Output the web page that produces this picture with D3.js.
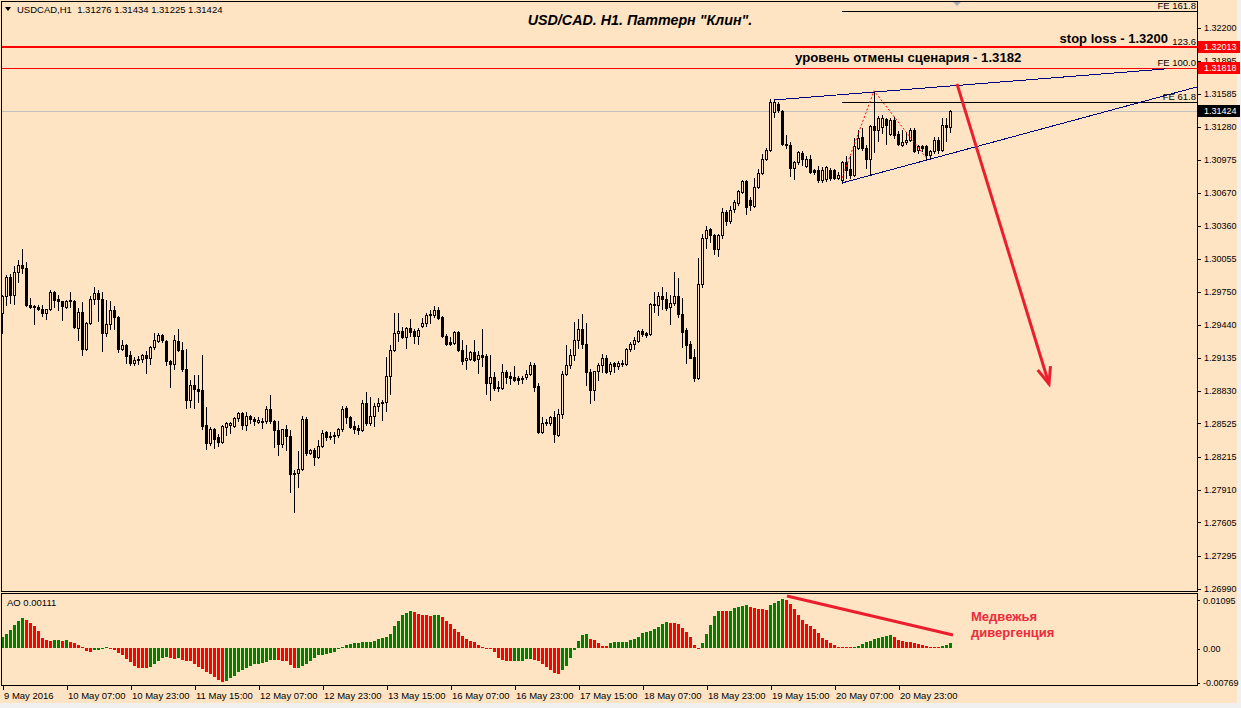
<!DOCTYPE html>
<html><head><meta charset="utf-8">
<script src="https://d3js.org/d3.v7.min.js"></script>
<style>
html,body{margin:0;padding:0;background:#f0f0f0;overflow:hidden;}
svg{display:block;}
text{font-family:"Liberation Sans",Arial,Helvetica,sans-serif;}
</style></head><body>
<svg id="chart" width="1241" height="708"></svg>
<script>
// ---------- DATA ----------
const open = [1.2955,1.2970,1.2988,1.2971,1.2993,1.2999,1.2996,1.2962,1.2960,1.2960,
1.2958,1.2955,1.2958,1.2974,1.2968,1.2966,1.2960,1.2966,1.2966,1.2941,
1.2956,1.2921,1.2945,1.2968,1.2973,1.2968,1.2936,1.2944,1.2957,1.2951,
1.2921,1.2925,1.2916,1.2908,1.2911,1.2912,1.2916,1.2913,1.2923,1.2929,
1.2934,1.2929,1.2910,1.2907,1.2929,1.2920,1.2903,1.2874,1.2888,1.2884,
1.2883,1.2851,1.2834,1.2847,1.2839,1.2835,1.2849,1.2851,1.2850,1.2857,
1.2862,1.2851,1.2859,1.2856,1.2853,1.2854,1.2854,1.2865,1.2854,1.2846,
1.2833,1.2847,1.2840,1.2806,1.2806,1.2810,1.2856,1.2825,1.2827,1.2821,
1.2831,1.2844,1.2840,1.2840,1.2841,1.2847,1.2866,1.2858,1.2850,1.2848,
1.2846,1.2871,1.2852,1.2859,1.2868,1.2872,1.2872,1.2896,1.2920,1.2936,
1.2938,1.2932,1.2941,1.2938,1.2933,1.2943,1.2945,1.2953,1.2953,1.2957,
1.2951,1.2933,1.2928,1.2927,1.2937,1.2920,1.2911,1.2912,1.2918,1.2912,
1.2916,1.2915,1.2890,1.2895,1.2886,1.2885,1.2900,1.2896,1.2895,1.2894,
1.2893,1.2895,1.2898,1.2906,1.2887,1.2844,1.2852,1.2852,1.2858,1.2841,
1.2861,1.2898,1.2906,1.2916,1.2930,1.2940,1.2926,1.2900,1.2883,1.2901,
1.2906,1.2913,1.2901,1.2908,1.2905,1.2907,1.2907,1.2921,1.2926,1.2929,
1.2938,1.2936,1.2935,1.2963,1.2962,1.2970,1.2968,1.2960,1.2964,1.2970,
1.2954,1.2939,1.2926,1.2914,1.2894,1.2982,1.3024,1.3033,1.3027,1.3014,
1.3027,1.3048,1.3040,1.3051,1.3057,1.3067,1.3077,1.3060,1.3054,1.3072,
1.3085,1.3098,1.3106,1.3141,1.3149,1.3142,1.3112,1.3111,1.3089,1.3095,
1.3103,1.3091,1.3098,1.3087,1.3087,1.3078,1.3079,1.3087,1.3087,1.3080,
1.3078,1.3095,1.3088,1.3083,1.3108,1.3118,1.3108,1.3098,1.3128,1.3125,
1.3127,1.3135,1.3121,1.3134,1.3121,1.3111,1.3113,1.3115,1.3125,1.3106,
1.3110,1.3110,1.3101,1.3105,1.3115,1.3106,1.3129,1.31276];

const high = [1.2971,1.2990,1.2991,1.2998,1.3004,1.3014,1.3002,1.2969,1.2962,1.2962,
1.2962,1.2958,1.2976,1.2975,1.2971,1.2966,1.2967,1.2974,1.2967,1.2959,
1.2965,1.2946,1.2970,1.2979,1.2976,1.2974,1.2967,1.2966,1.2961,1.2952,
1.2930,1.2926,1.2919,1.2914,1.2915,1.2917,1.2919,1.2924,1.2936,1.2936,
1.2935,1.2930,1.2911,1.2934,1.2940,1.2928,1.2921,1.2892,1.2897,1.2897,
1.2916,1.2867,1.2849,1.2848,1.2842,1.2851,1.2853,1.2853,1.2858,1.2863,
1.2863,1.2863,1.2860,1.2858,1.2858,1.2857,1.2868,1.2878,1.2855,1.2854,
1.2847,1.2851,1.2846,1.2809,1.2826,1.2859,1.2858,1.2828,1.2829,1.2837,
1.2846,1.2845,1.2844,1.2844,1.2848,1.2868,1.2868,1.2859,1.2854,1.2851,
1.2874,1.2881,1.2877,1.2871,1.2876,1.2874,1.2914,1.2925,1.2955,1.2955,
1.2942,1.2942,1.2949,1.2940,1.2941,1.2950,1.2955,1.2957,1.2961,1.2960,
1.2952,1.2935,1.2932,1.2938,1.2938,1.2930,1.2925,1.2919,1.2930,1.2919,
1.2940,1.2917,1.2916,1.2900,1.2891,1.2907,1.2902,1.2900,1.2905,1.2896,
1.2896,1.2902,1.2909,1.2908,1.2890,1.2858,1.2856,1.2859,1.2864,1.2865,
1.2901,1.2925,1.2921,1.2946,1.2949,1.2954,1.2945,1.2903,1.2901,1.2908,
1.2917,1.2916,1.2909,1.2909,1.2910,1.2911,1.2922,1.2928,1.2932,1.2939,
1.2940,1.2937,1.2964,1.2974,1.2974,1.2979,1.2974,1.2971,1.2993,1.2987,
1.2969,1.2941,1.2929,1.2921,1.3006,1.3028,1.3035,1.3034,1.3028,1.3028,
1.3052,1.3050,1.3054,1.3060,1.3069,1.3078,1.3078,1.3062,1.3080,1.3088,
1.3102,1.3108,1.3153,1.3153,1.3151,1.3143,1.3120,1.3113,1.3096,1.3105,
1.3105,1.3100,1.3101,1.3088,1.3091,1.3090,1.3091,1.3089,1.3088,1.3086,
1.3096,1.3100,1.3100,1.3117,1.3125,1.3126,1.3111,1.3129,1.3161,1.3138,
1.3139,1.3136,1.3136,1.3137,1.3124,1.3125,1.3123,1.3126,1.3126,1.3111,
1.3111,1.3111,1.3106,1.3118,1.3118,1.3136,1.3136,1.31434];

const low = [1.2936,1.2962,1.2964,1.2963,1.2983,1.2992,1.2961,1.2959,1.2944,1.2957,
1.2952,1.2949,1.2957,1.2960,1.2957,1.2948,1.2959,1.2960,1.2941,1.2930,
1.2916,1.2920,1.2944,1.2963,1.2947,1.2919,1.2933,1.2940,1.2940,1.2918,
1.2920,1.2908,1.2906,1.2906,1.2907,1.2909,1.2899,1.2907,1.2921,1.2928,
1.2928,1.2906,1.2886,1.2903,1.2919,1.2901,1.2866,1.2867,1.2866,1.2872,
1.2847,1.2828,1.2832,1.2829,1.2831,1.2834,1.2841,1.2843,1.2849,1.2854,
1.2847,1.2846,1.2852,1.2851,1.2852,1.2848,1.2852,1.2852,1.2830,1.2823,
1.2830,1.2827,1.2788,1.2770,1.2793,1.2809,1.2823,1.2824,1.2813,1.2820,
1.2830,1.2837,1.2838,1.2834,1.2839,1.2845,1.2852,1.2848,1.2843,1.2842,
1.2845,1.2851,1.2851,1.2850,1.2864,1.2855,1.2864,1.2879,1.2919,1.2929,
1.2931,1.2922,1.2933,1.2927,1.2926,1.2942,1.2943,1.2945,1.2951,1.2949,
1.2932,1.2925,1.2925,1.2926,1.2919,1.2907,1.2903,1.2911,1.2910,1.2899,
1.2905,1.2879,1.2874,1.2883,1.2882,1.2884,1.2890,1.2889,1.2891,1.2889,
1.2890,1.2893,1.2897,1.2882,1.2843,1.2843,1.2851,1.2851,1.2835,1.2840,
1.2857,1.2897,1.2904,1.2911,1.2922,1.2922,1.2888,1.2871,1.2874,1.2892,
1.2900,1.2899,1.2898,1.2900,1.2903,1.2905,1.2906,1.2919,1.2921,1.2928,
1.2933,1.2932,1.2934,1.2956,1.2953,1.2958,1.2957,1.2944,1.2962,1.2951,
1.2923,1.2908,1.2913,1.2891,1.2893,1.2979,1.3015,1.3021,1.3009,1.3008,
1.3024,1.3036,1.3038,1.3048,1.3055,1.3066,1.3047,1.3050,1.3053,1.3071,
1.3084,1.3097,1.3105,1.3137,1.3141,1.3111,1.3108,1.3082,1.3079,1.3093,
1.3092,1.3090,1.3085,1.3084,1.3076,1.3076,1.3077,1.3078,1.3079,1.3079,
1.3075,1.3080,1.3080,1.3082,1.3107,1.3106,1.3089,1.3083,1.3104,1.3114,
1.3122,1.3112,1.3120,1.3117,1.3111,1.3110,1.3112,1.3114,1.3104,1.3103,
1.3105,1.3097,1.3098,1.3103,1.3103,1.3105,1.3114,1.31225];

const close = [1.2970,1.2988,1.2971,1.2993,1.2999,1.2996,1.2962,1.2960,1.2961,1.2958,
1.2955,1.2958,1.2974,1.2967,1.2966,1.2961,1.2966,1.2967,1.2942,1.2956,
1.2921,1.2945,1.2968,1.2973,1.2968,1.2936,1.2944,1.2957,1.2951,1.2921,
1.2925,1.2915,1.2908,1.2911,1.2912,1.2916,1.2913,1.2923,1.2930,1.2934,
1.2930,1.2910,1.2907,1.2930,1.2920,1.2903,1.2874,1.2888,1.2884,1.2882,
1.2850,1.2834,1.2847,1.2838,1.2835,1.2850,1.2852,1.2852,1.2857,1.2862,
1.2851,1.2859,1.2856,1.2854,1.2855,1.2853,1.2865,1.2854,1.2846,1.2833,
1.2847,1.2840,1.2805,1.2805,1.2810,1.2856,1.2825,1.2827,1.2821,1.2831,
1.2843,1.2839,1.2839,1.2841,1.2847,1.2865,1.2858,1.2849,1.2847,1.2846,
1.2871,1.2852,1.2859,1.2868,1.2871,1.2871,1.2896,1.2920,1.2936,1.2938,
1.2932,1.2941,1.2937,1.2933,1.2939,1.2945,1.2953,1.2954,1.2957,1.2950,
1.2933,1.2926,1.2926,1.2937,1.2920,1.2910,1.2913,1.2918,1.2911,1.2916,
1.2914,1.2890,1.2895,1.2885,1.2885,1.2900,1.2895,1.2894,1.2892,1.2892,
1.2894,1.2898,1.2906,1.2886,1.2844,1.2852,1.2853,1.2858,1.2842,1.2861,
1.2898,1.2906,1.2916,1.2930,1.2940,1.2926,1.2900,1.2883,1.2901,1.2906,
1.2913,1.2900,1.2907,1.2905,1.2908,1.2908,1.2921,1.2926,1.2930,1.2938,
1.2935,1.2934,1.2963,1.2962,1.2970,1.2968,1.2959,1.2964,1.2970,1.2954,
1.2937,1.2925,1.2913,1.2894,1.2982,1.3024,1.3032,1.3027,1.3014,1.3027,
1.3048,1.3040,1.3050,1.3058,1.3068,1.3077,1.3053,1.3055,1.3072,1.3085,
1.3098,1.3106,1.3151,1.3151,1.3143,1.3112,1.3111,1.3089,1.3095,1.3104,
1.3098,1.3098,1.3086,1.3086,1.3078,1.3087,1.3090,1.3080,1.3080,1.3083,
1.3095,1.3087,1.3083,1.3110,1.3117,1.3108,1.3098,1.3128,1.3125,1.3136,
1.3136,1.3129,1.3134,1.3120,1.3112,1.3113,1.3115,1.3125,1.3105,1.3110,
1.3108,1.3101,1.3105,1.3115,1.3106,1.3129,1.3127,1.31424];

const aoValues = [0.0025,0.0032,0.0040,0.0052,0.0061,0.0067,0.0063,0.0057,0.0049,0.0037,
0.0023,0.0017,0.0016,0.0017,0.0018,0.0015,0.0017,0.0014,0.0010,0.0006,
0.0002,-0.0008,-0.0010,-0.0006,-0.0005,-0.0004,0.0002,-0.0002,-0.0005,-0.0013,
-0.0017,-0.0025,-0.0033,-0.0042,-0.0045,-0.0046,-0.0047,-0.0043,-0.0037,-0.0030,
-0.0024,-0.0020,-0.0024,-0.0026,-0.0023,-0.0028,-0.0029,-0.0030,-0.0037,-0.0043,
-0.0048,-0.0055,-0.0060,-0.0066,-0.0072,-0.0077,-0.0075,-0.0069,-0.0063,-0.0056,
-0.0050,-0.0046,-0.0041,-0.0037,-0.0036,-0.0035,-0.0032,-0.0028,-0.00275,-0.0028,
-0.0029,-0.0030,-0.0039,-0.0046,-0.0045,-0.0042,-0.0036,-0.0029,-0.0023,-0.0017,
-0.0016,-0.0015,-0.0011,-0.0010,-0.0004,0.0001,0.0005,0.0008,0.0011,0.00115,
0.0012,0.00125,0.0014,0.0016,0.0019,0.0021,0.0025,0.0032,0.0048,0.0061,
0.0074,0.0079,0.0083,0.0080,0.0076,0.0075,0.0074,0.0072,0.0073,0.0074,
0.0069,0.0060,0.0053,0.0043,0.0035,0.0026,0.0020,0.0016,0.0012,0.0006,
0.0002,-0.0001,-0.0004,-0.0010,-0.0023,-0.0028,-0.0030,-0.00305,-0.0030,-0.00295,
-0.0029,-0.00265,-0.0026,-0.0028,-0.0030,-0.0037,-0.0043,-0.00505,-0.0058,-0.00585,
-0.00505,-0.0041,-0.0024,-0.0006,0.0015,0.00295,0.0030,0.0019,0.00175,0.0010,
0.0004,0.00035,0.0010,0.0012,0.00128,0.00132,0.00136,0.00165,0.00195,0.0025,
0.00325,0.00345,0.00385,0.0043,0.00475,0.00525,0.0058,0.00555,0.0055,0.00535,
0.00445,0.00345,0.0025,0.0006,-0.0002,0.0010,0.0031,0.0051,0.00715,0.00835,
0.0083,0.00825,0.0084,0.0089,0.0093,0.0095,0.00955,0.0093,0.00905,0.00885,
0.0087,0.00855,0.00965,0.0102,0.0106,0.01095,0.0108,0.0099,0.0087,0.0075,
0.0063,0.00535,0.0049,0.00415,0.00325,0.00225,0.00175,0.0010,0.0006,0.00025,
0.0002,0.0001,0.00008,0.00015,0.0004,0.00095,0.0012,0.0015,0.0019,0.0023,
0.0025,0.0027,0.00285,0.0025,0.00175,0.0016,0.0014,0.0012,0.00115,0.00095,
0.0006,0.0004,0.0002,0.0001,0.00005,0.0003,0.0007,0.00111];

const timeLabels = ["9 May 2016","10 May 07:00","10 May 23:00","11 May 15:00","12 May 07:00",
  "12 May 23:00","13 May 15:00","16 May 07:00","16 May 23:00","17 May 15:00",
  "18 May 07:00","18 May 23:00","19 May 15:00","20 May 07:00","20 May 23:00"];
const timeBarIndex = [0,16,32,48,64,80,96,112,128,144,160,176,192,208,224];

const priceTicks = [1.32200,1.31895,1.31585,1.31280,1.30975,1.30670,1.30360,1.30055,1.29750,
  1.29440,1.29135,1.28830,1.28525,1.28215,1.27910,1.27605,1.27295,1.26990];
const aoTicks = [0.01095, 0, -0.00769];
const aoTickLabels = ["0.01095","0.00","-0.00769"];

const stopLossLevel = 1.32013;
const cancelLevel = 1.31818;
const bidPrice = 1.31424;
const headerText = "USDCAD,H1  1.31276 1.31434 1.31225 1.31424";
const aoHeader = "AO 0.00111";

const feLabels = ["FE 61.8","FE 100.0","123.6","FE 161.8"];
const fePrices = [1.31506, 1.31818, 1.32013, 1.32356];
const feStartBar = 210;
const wedgeUpper = [[193, 1.31525], [290.75, 1.31813]];
const wedgeLower = [[210, 1.30754], [298.75, 1.31646]];
const fiboZigzag = [[210, 1.3080], [218, 1.3161], [231, 1.3099]];
const forecastArrow = [[238.75, 1.31674], [261.75, 1.28887]];
const divergenceLine = [[196.25, 0.0117], [237.75, 0.00287]];

// ---------- SCALES ----------
const BG = "#ffe4c4";
const svg = d3.select("#chart");
const x = d3.scaleLinear().domain([0, 237]).range([2, 950]);
const y = d3.scaleLinear().domain([1.26990, 1.32200]).range([588.2, 27.3]);
const yAO = d3.scaleLinear().domain([-0.00769, 0.01095]).range([681.7, 599.3]);

svg.append("rect").attr("width",1241).attr("height",708).attr("fill","#f0f0f0");
svg.append("rect").attr("width",1237).attr("height",703).attr("fill",BG);

const defs = svg.append("defs");
defs.append("clipPath").attr("id","clipMain").append("rect").attr("x",2).attr("y",2).attr("width",1195).attr("height",589);
defs.append("clipPath").attr("id","clipAO").append("rect").attr("x",2).attr("y",594).attr("width",1195).attr("height",91);

const main = svg.append("g").attr("clip-path","url(#clipMain)");
const crisp = v => Math.round(v) + 0.5;

// bid line
main.append("line").attr("x1",2).attr("x2",1197).attr("y1",crisp(y(bidPrice))).attr("y2",crisp(y(bidPrice)))
  .attr("stroke","#c0c0c0").attr("stroke-width",1);

// candles
const candleG = main.append("g").attr("shape-rendering","crispEdges");
open.forEach((o, i) => {
  const h = high[i], l = low[i], c = close[i];
  const cx = Math.round(x(i));
  const yh = Math.round(y(Math.max(h, o, c)));
  const yl = Math.round(y(Math.min(l, o, c)));
  const yo = Math.round(y(o)), yc = Math.round(y(c));
  const top = Math.min(yo, yc), bot = Math.max(yo, yc);
  candleG.append("rect").attr("x",cx).attr("y",yh).attr("width",1).attr("height",Math.max(1, yl - yh + 1)).attr("fill","#000");
  if (c >= o) {
    candleG.append("rect").attr("x",cx-1).attr("y",top).attr("width",3).attr("height",Math.max(2, bot-top+1)).attr("fill","#000");
    if (bot - top >= 2) candleG.append("rect").attr("x",cx).attr("y",top+1).attr("width",1).attr("height",bot-top-1).attr("fill",BG);
  } else {
    candleG.append("rect").attr("x",cx-1).attr("y",top).attr("width",3).attr("height",Math.max(1, bot-top+1)).attr("fill","#000");
  }
});

// FE levels (black), then red lines on top
const xFeStart = Math.round(x(feStartBar));
fePrices.forEach((p, k) => {
  main.append("line").attr("x1",xFeStart).attr("x2",1197).attr("y1",crisp(y(p))).attr("y2",crisp(y(p)))
    .attr("stroke","#000").attr("stroke-width",1);
  svg.append("text").attr("x",1196).attr("y",Math.round(y(p)) - 2).attr("text-anchor","end")
    .attr("font-size","9.5px").attr("fill","#000").text(feLabels[k]);
});
main.append("line").attr("x1",2).attr("x2",1197).attr("y1",Math.round(y(stopLossLevel))).attr("y2",Math.round(y(stopLossLevel)))
  .attr("stroke","#ff0000").attr("stroke-width",2);
main.append("line").attr("x1",2).attr("x2",1197).attr("y1",crisp(y(cancelLevel))).attr("y2",crisp(y(cancelLevel)))
  .attr("stroke","#ff0000").attr("stroke-width",1);

// wedge lines
const line = d3.line().x(d => x(d[0])).y(d => y(d[1]));
[wedgeUpper, wedgeLower].forEach(seg => {
  main.append("path").attr("d", line(seg)).attr("fill","none").attr("stroke","#000080")
    .attr("stroke-width",1).attr("shape-rendering","crispEdges");
});
main.append("path").attr("d", line(fiboZigzag)).attr("fill","none").attr("stroke","#ff0000")
  .attr("stroke-width",1).attr("stroke-dasharray","2,2");

// forecast arrow
const a0 = [x(forecastArrow[0][0]), y(forecastArrow[0][1])];
const a1 = [x(forecastArrow[1][0]), y(forecastArrow[1][1])];
main.append("line").attr("x1",a0[0]).attr("y1",a0[1]).attr("x2",a1[0]).attr("y2",a1[1])
  .attr("stroke","#eb1e2d").attr("stroke-width",3);
{
  const ang = Math.atan2(a1[1]-a0[1], a1[0]-a0[0]);
  const L = 18, spread = 0.38;
  const p1 = [a1[0] - L*Math.cos(ang - spread), a1[1] - L*Math.sin(ang - spread)];
  const p2 = [a1[0] - L*Math.cos(ang + spread), a1[1] - L*Math.sin(ang + spread)];
  main.append("path").attr("d", `M${p1[0]},${p1[1]}L${a1[0]},${a1[1]}L${p2[0]},${p2[1]}`)
    .attr("fill","none").attr("stroke","#eb1e2d").attr("stroke-width",3).attr("stroke-linejoin","miter");
}

// chart shift marker
svg.append("path").attr("d","M953,2L961,2L957,6Z").attr("fill","#a8a8b8");

// ---------- AO ----------
const aoG = svg.append("g").attr("clip-path","url(#clipAO)").attr("shape-rendering","crispEdges");
const y0 = Math.round(yAO(0));
aoValues.forEach((v, i) => {
  const cx = Math.round(x(i));
  const yv = Math.round(yAO(v));
  const col = (i === 0 || v > aoValues[i-1]) ? "#008000" : "#ff0000";
  aoG.append("rect").attr("x",cx-1).attr("y",Math.min(yv,y0)).attr("width",3)
    .attr("height",Math.max(1, Math.abs(yv-y0))).attr("fill",col);
});
const d0 = [x(divergenceLine[0][0]), yAO(divergenceLine[0][1])];
const d1 = [x(divergenceLine[1][0]), yAO(divergenceLine[1][1])];
svg.append("line").attr("x1",d0[0]).attr("y1",d0[1]).attr("x2",d1[0]).attr("y2",d1[1])
  .attr("stroke","#eb1e2d").attr("stroke-width",3);

// ---------- FRAMES ----------
svg.append("rect").attr("x",1.5).attr("y",1.5).attr("width",1196).attr("height",590)
  .attr("fill","none").attr("stroke","#000");
svg.append("rect").attr("x",1.5).attr("y",593.5).attr("width",1196).attr("height",92)
  .attr("fill","none").attr("stroke","#000");

// ---------- AXES ----------
const styleAxis = g => {
  g.select(".domain").remove();
  g.selectAll(".tick line").attr("stroke","#000").attr("shape-rendering","crispEdges");
  g.selectAll(".tick text").attr("fill","#000").attr("font-family","'Liberation Sans',Arial,sans-serif");
};
const yAxis = svg.append("g").attr("transform","translate(1197,0.5)")
  .call(d3.axisRight(y).tickValues(priceTicks).tickFormat(d3.format(".5f")).tickSize(4).tickPadding(3));
styleAxis(yAxis);
yAxis.selectAll(".tick text").attr("font-size","9px");

const aoAxis = svg.append("g").attr("transform","translate(1197,1)")
  .call(d3.axisRight(yAO).tickValues(aoTicks).tickFormat((d,k) => aoTickLabels[k]).tickSize(3).tickPadding(3));
styleAxis(aoAxis);
aoAxis.selectAll(".tick text").attr("font-size","9px");

const xAxis = svg.append("g").attr("transform","translate(0.5,686)")
  .call(d3.axisBottom(x).tickValues(timeBarIndex).tickFormat((d,k) => timeLabels[k]).tickSize(4).tickPadding(2));
styleAxis(xAxis);
xAxis.selectAll(".tick text").attr("font-size","9.5px").attr("text-anchor","start").attr("x",1);

// price boxes
[[stopLossLevel,"#ff0000"],[cancelLevel,"#ff0000"],[bidPrice,"#000000"]].forEach(([p, col]) => {
  const yy = Math.round(y(p));
  svg.append("rect").attr("x",1198).attr("y",yy-6).attr("width",42).attr("height",12).attr("fill",col);
  svg.append("text").attr("x",1204).attr("y",yy).attr("dy","0.35em").attr("font-size","9px")
    .attr("fill","#fff").text(d3.format(".5f")(p));
});

// ---------- TEXTS ----------
svg.append("path").attr("d","M5,7L11,7L8,11Z").attr("fill","#000");
svg.append("text").attr("x",17).attr("y",12.5).attr("font-size","9.5px").style("white-space","pre").text(headerText);
svg.append("text").attr("x",7).attr("y",606).attr("font-size","9.5px").text(aoHeader);

svg.append("text").attr("x",640).attr("y",25).attr("text-anchor","middle")
  .attr("font-size","14.3px").attr("font-weight","bold").attr("font-style","italic")
  .text("USD/CAD. H1. Паттерн \"Клин\".");
svg.append("text").attr("x",1168).attr("y",43).attr("text-anchor","end")
  .attr("font-size","13px").attr("font-weight","bold").text("stop loss - 1.3200");
svg.append("text").attr("x",795).attr("y",62)
  .attr("font-size","13.2px").attr("font-weight","bold").text("уровень отмены сценария - 1.3182");
svg.append("text").attr("x",971).attr("y",621).attr("font-size","13px").attr("font-weight","bold")
  .attr("fill","#ec2b3b").text("Медвежья");
svg.append("text").attr("x",971).attr("y",637).attr("font-size","13px").attr("font-weight","bold")
  .attr("fill","#ec2b3b").text("дивергенция");
</script></body></html>
